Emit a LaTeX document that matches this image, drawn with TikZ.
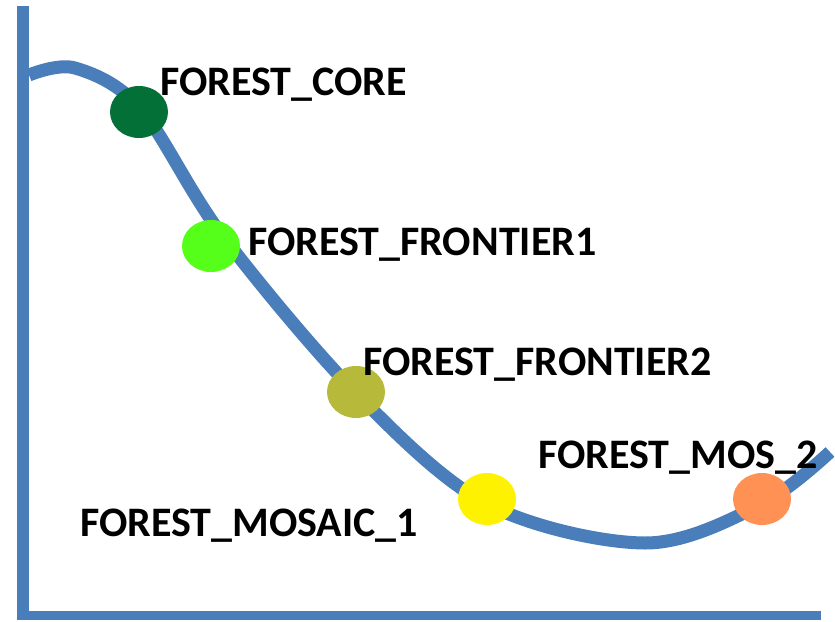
\documentclass[tikz,border=0pt]{standalone}
\usepackage{fontspec}
\setmainfont{Carlito}
\usetikzlibrary{shapes.geometric}

\definecolor{axisblue}{RGB}{74,126,187}
\definecolor{coregreen}{RGB}{3,112,55}
\definecolor{frontgreen}{RGB}{85,255,26}
\definecolor{olive}{RGB}{182,185,58}
\definecolor{mosorange}{RGB}{255,145,85}

\begin{document}
\begin{tikzpicture}[x=1pt,y=-1pt,
    spot/.style={ellipse,inner sep=0pt,minimum width=58pt,minimum height=52pt},
    tag/.style={anchor=base west,inner sep=0pt,font=\fontsize{42}{50}\selectfont\bfseries}]
    \useasboundingbox (0,0) rectangle (835,621);
    % axes
    \draw[axisblue,line width=12pt] (23,6) -- (23,620);
    \draw[axisblue,line width=9pt] (17,615) -- (821,615);
    % curve
    \draw[axisblue,line width=13pt] plot[smooth,tension=0.55] coordinates
        {(29,75) (75,68) (140,108) (222,235) (355,392) (487,504) (645,543) (760,505) (830,452)};
    % stages
    \foreach \x/\y/\c/\n in {139/112/coregreen/core, 211/246/frontgreen/fr1, 356/392/olive/fr2, 487/499/yellow/mos1, 762/499/mosorange/mos2}
        \node[spot,fill=\c] (\n) at (\x,\y) {};
    \node[tag] (lcore) at (160,95) {FOREST\_CORE};
    \node[tag] (lfr1) at (248,255) {FOREST\_FRONTIER1};
    \node[tag] (lfr2) at (363,375) {FOREST\_FRONTIER2};
    \node[tag] (lmos2) at (538,468) {FOREST\_MOS\_2};
    \node[tag] (lmos1) at (80,536) {FOREST\_MOSAIC\_1};
\end{tikzpicture}
\end{document}
